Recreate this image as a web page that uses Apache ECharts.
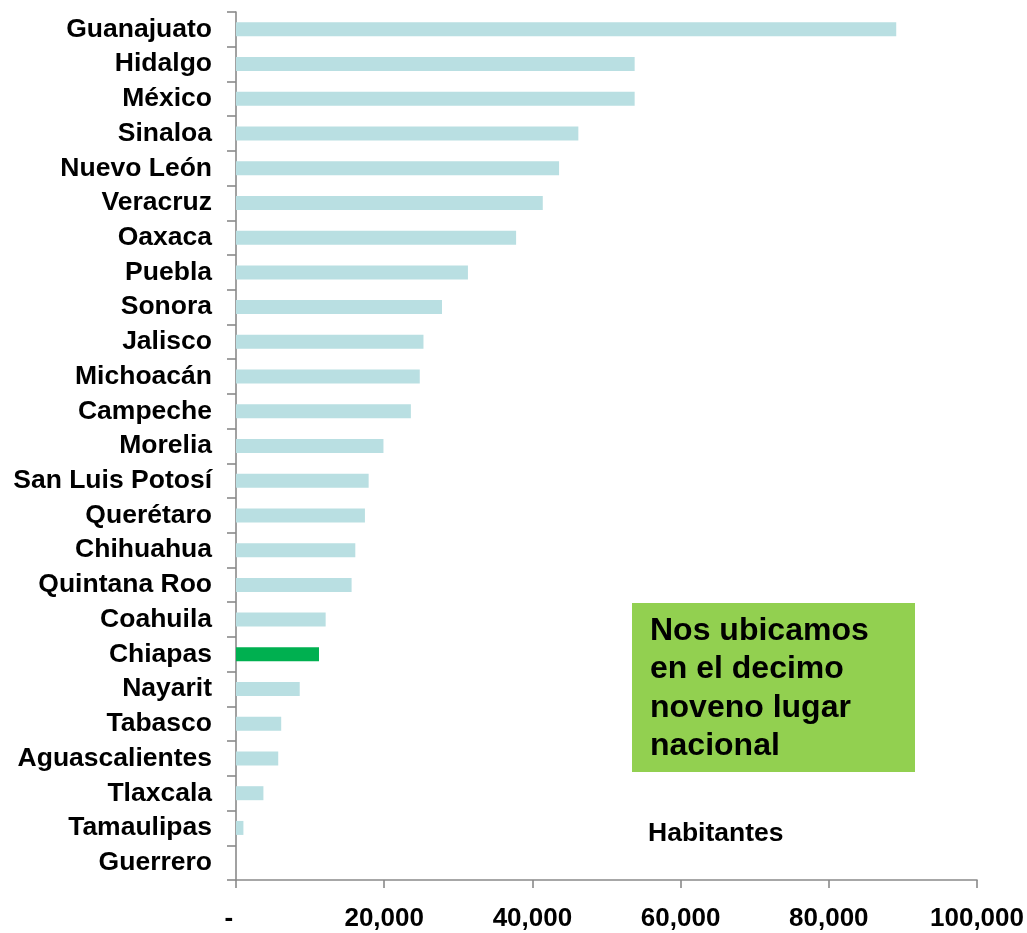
<!DOCTYPE html>
<html>
<head>
<meta charset="utf-8">
<script src="https://cdn.jsdelivr.net/npm/echarts@6/dist/echarts.min.js"></script>
<style>
  html, body { margin: 0; padding: 0; background: #fff; }
  #chart { width: 1027px; height: 933px; }
</style>
</head>
<body>
<div id="chart"></div>
<script>
// estados, de mayor a menor
var estados = ['Guanajuato', 'Hidalgo', 'México', 'Sinaloa', 'Nuevo León', 'Veracruz', 'Oaxaca',
  'Puebla', 'Sonora', 'Jalisco', 'Michoacán', 'Campeche', 'Morelia', 'San Luis Potosí',
  'Querétaro', 'Chihuahua', 'Quintana Roo', 'Coahuila', 'Chiapas', 'Nayarit', 'Tabasco',
  'Aguascalientes', 'Tlaxcala', 'Tamaulipas', 'Guerrero'];
var habitantes = [89100, 53800, 53800, 46200, 43600, 41400, 37800, 31300, 27800, 25300, 24800,
  23600, 19900, 17900, 17400, 16100, 15600, 12100, 11200, 8600, 6100, 5700, 3700, 1000, 0];
var ticksX = [0, 20000, 40000, 60000, 80000, 100000];
var destacado = 'Chiapas';
var nota = ['Nos ubicamos', 'en el decimo', 'noveno lugar', 'nacional'];

var font = '"Liberation Sans", Arial, sans-serif';
var axisGray = '#8a8a8a';

var chart = echarts.init(document.getElementById('chart'));

var datos = estados.map(function (e, i) {
  if (e === destacado) {
    return { value: habitantes[i], itemStyle: { color: '#00b050' } };
  }
  return habitantes[i];
});

chart.setOption({
  animation: false,
  grid: { left: 236, right: 50, top: 12, bottom: 53 },
  xAxis: {
    type: 'value',
    min: ticksX[0],
    max: ticksX[ticksX.length - 1],
    interval: ticksX[1] - ticksX[0],
    splitLine: { show: false },
    axisLine: { show: true, lineStyle: { color: axisGray, width: 1.6 } },
    axisTick: { show: true, length: 8, lineStyle: { color: axisGray, width: 1.6 } },
    axisLabel: {
      margin: 26,
      color: '#000',
      fontFamily: font,
      fontWeight: 'bold',
      fontSize: 26,
      formatter: function (v) {
        return v === 0 ? '-  ' : v.toLocaleString('en-US');
      }
    }
  },
  yAxis: {
    type: 'category',
    inverse: true,
    data: estados,
    axisLine: { show: true, lineStyle: { color: axisGray, width: 1.6 } },
    axisTick: { show: true, interval: 0, length: 9, lineStyle: { color: axisGray, width: 1.6 } },
    axisLabel: {
      interval: 0,
      hideOverlap: false,
      margin: 24,
      color: '#000',
      fontFamily: font,
      fontWeight: 'bold',
      fontSize: 26.5,
      lineHeight: 28,
      padding: [3, 0, 0, 0]
    }
  },
  series: [{
    type: 'bar',
    data: datos,
    barWidth: 14,
    itemStyle: { color: '#b9dfe2' }
  }],
  graphic: [
    {
      type: 'rect',
      left: 632, top: 603,
      shape: { width: 283, height: 169 },
      style: { fill: '#92d050' }
    },
    {
      type: 'text',
      left: 650, top: 612,
      style: {
        text: nota.join('\n'),
        font: 'bold 32px ' + font,
        lineHeight: 38.3,
        fill: '#000'
      }
    },
    {
      type: 'text',
      left: 648, top: 820,
      style: {
        text: 'Habitantes',
        font: 'bold 26.5px ' + font,
        fill: '#000'
      }
    }
  ]
});

window.addEventListener('resize', function () {
  chart.resize();
});
</script>
</body>
</html>
